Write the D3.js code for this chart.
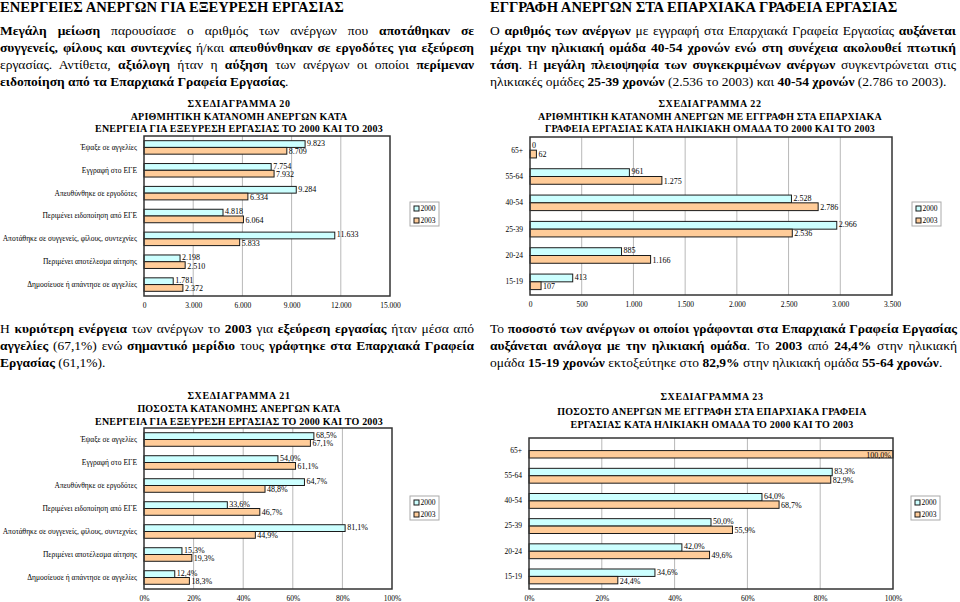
<!DOCTYPE html>
<html>
<head>
<meta charset="utf-8">
<script src="https://cdn.jsdelivr.net/npm/d3@7"></script>
<style>
  body { margin: 0; background: #fff; }
  #page { position: relative; width: 960px; height: 602px; overflow: hidden; font-family: "Liberation Serif", "Times New Roman", serif; color: #000; }
  .txt { position: absolute; font-size: 13.5px; line-height: 17px; }
  .txt .ln { text-align: justify; text-align-last: justify; white-space: nowrap; }
  .txt .ln.last { text-align-last: left; }
  .head { position: absolute; font-size: 14.6px; font-weight: bold; line-height: 15px; }
  svg { position: absolute; left: 0; top: 0; font-family: "Liberation Serif", "Times New Roman", serif; }
</style>
</head>
<body>
<div id="page">
  <div class="head" style="left:0;top:0">ΕΝΕΡΓΕΙΕΣ ΑΝΕΡΓΩΝ ΓΙΑ ΕΞΕΥΡΕΣΗ ΕΡΓΑΣΙΑΣ</div>
  <div class="txt" style="left:0;top:22px;width:474px">
    <div class="ln"><b>Μεγάλη μείωση</b> παρουσίασε ο αριθμός των ανέργων που <b>αποτάθηκαν σε</b></div>
    <div class="ln"><b>συγγενείς, φίλους και συντεχνίες</b> ή/και <b>απευθύνθηκαν σε εργοδότες για εξεύρεση</b></div>
    <div class="ln">εργασίας. Αντίθετα, <b>αξιόλογη</b> ήταν η <b>αύξηση</b> των ανέργων οι οποίοι <b>περίμεναν</b></div>
    <div class="ln last"><b>ειδοποίηση από τα Επαρχιακά Γραφεία Εργασίας</b>.</div>
  </div>

  <div class="head" style="left:490px;top:0">ΕΓΓΡΑΦΗ ΑΝΕΡΓΩΝ ΣΤΑ ΕΠΑΡΧΙΑΚΑ ΓΡΑΦΕΙΑ ΕΡΓΑΣΙΑΣ</div>
  <div class="txt" style="left:490px;top:22px;width:466px">
    <div class="ln">Ο <b>αριθμός των ανέργων</b> με εγγραφή στα Επαρχιακά Γραφεία Εργασίας <b>αυξάνεται</b></div>
    <div class="ln"><b>μέχρι την ηλικιακή ομάδα 40-54 χρονών ενώ στη συνέχεια ακολουθεί πτωτική</b></div>
    <div class="ln"><b>τάση</b>. Η <b>μεγάλη πλειοψηφία των συγκεκριμένων ανέργων</b> συγκεντρώνεται στις</div>
    <div class="ln last">ηλικιακές ομάδες <b>25-39 χρονών</b> (2.536 το 2003) και <b>40-54 χρονών</b> (2.786 το 2003).</div>
  </div>

  <div class="txt" style="left:0;top:320px;width:474px">
    <div class="ln">Η <b>κυριότερη ενέργεια</b> των ανέργων το <b>2003</b> για <b>εξεύρεση εργασίας</b> ήταν μέσα από</div>
    <div class="ln"><b>αγγελίες</b> (67,1%) ενώ <b>σημαντικό μερίδιο</b> τους <b>γράφτηκε στα Επαρχιακά Γραφεία</b></div>
    <div class="ln last"><b>Εργασίας</b> (61,1%).</div>
  </div>

  <div class="txt" style="left:490px;top:320px;width:467px">
    <div class="ln">Το <b>ποσοστό των ανέργων οι οποίοι γράφονται στα Επαρχιακά Γραφεία Εργασίας</b></div>
    <div class="ln"><b>αυξάνεται ανάλογα με την ηλικιακή ομάδα</b>. Το <b>2003</b> από <b>24,4%</b> στην ηλικιακή</div>
    <div class="ln last">ομάδα <b>15-19 χρονών</b> εκτοξεύτηκε στο <b>82,9%</b> στην ηλικιακή ομάδα <b>55-64 χρονών</b>.</div>
  </div>
</div>
<script>
// categories
const actions = ["Έψαξε σε αγγελίες", "Εγγραφή στο ΕΓΕ", "Απευθύνθηκε σε εργοδότες",
  "Περιμένει ειδοποίηση από ΕΓΕ", "Αποτάθηκε σε συγγενείς, φίλους, συντεχνίες",
  "Περιμένει αποτέλεσμα αίτησης", "Δημοσίευσε ή απάντησε σε αγγελίες"]
const ages = ["65+", "55-64", "40-54", "25-39", "20-24", "15-19"]
const years = ["2000", "2003"]

// chart 20 - counts by action
const actCount2000 = [9823, 7754, 9284, 4818, 11633, 2198, 1781]
const actCount2003 = [8709, 7932, 6334, 6064, 5833, 2510, 2372]
// chart 21 - percent by action
const actPct2000 = [68.5, 54.0, 64.7, 33.6, 81.1, 15.3, 12.4]
const actPct2003 = [67.1, 61.1, 48.8, 46.7, 44.9, 19.3, 18.3]
// chart 22 - registered by age
const ageCount2000 = [0, 961, 2528, 2966, 885, 413]
const ageCount2003 = [62, 1275, 2786, 2536, 1166, 107]
// chart 23 - percent registered by age
const agePct2000 = [null, 83.3, 64.0, 50.0, 42.0, 34.6]
const agePct2003 = [100.0, 82.9, 68.7, 55.9, 49.6, 24.4]

// tick values
const countTicks20 = [0, 3000, 6000, 9000, 12000, 15000]
const countTicks22 = [0, 500, 1000, 1500, 2000, 2500, 3000, 3500]
const pctTicks = [0, 20, 40, 60, 80, 100]

const colors = {"2000": "#ccffff", "2003": "#ffcc99"}
const serif = "Liberation Serif, Times New Roman, serif"

const loc = d3.formatLocale({decimal: ",", thousands: ".", grouping: [3], currency: ["", ""]})
const fmtCount = loc.format(",d")
const fmtPct = v => loc.format(".1f")(v) + "%"
const fmtTickPct = v => v + "%"

const svg = d3.select("#page").append("svg")
  .attr("width", 960)
  .attr("height", 602)

function drawChart(o) {
  const g = svg.append("g")

  // title
  o.title.forEach((t, i) => {
    g.append("text")
      .attr("x", o.titleX)
      .attr("y", o.titleY[i])
      .attr("text-anchor", "middle")
      .attr("font-family", serif)
      .attr("font-size", 10)
      .attr("font-weight", "bold")
      .attr("letter-spacing", i == 0 ? 0.6 : 0.2)
      .text(t)
  })

  const x = d3.scaleLinear()
    .domain([0, o.ticks[o.ticks.length - 1]])
    .range([o.left, o.right])

  const y = d3.scaleBand()
    .domain(o.cats)
    .range([o.top, o.bottom])
    .paddingInner(0.41)
    .paddingOuter(0.205)

  const ySub = d3.scaleBand()
    .domain(years)
    .range([0, y.bandwidth()])

  // grid
  g.selectAll(".grid")
    .data(o.ticks.slice(1, -1))
    .enter()
    .append("line")
    .attr("x1", d => x(d))
    .attr("x2", d => x(d))
    .attr("y1", o.top)
    .attr("y2", o.bottom)
    .attr("stroke", "#b8b8b8")
    .attr("stroke-width", 1)

  // axis at bottom, only labels
  const xAxis = d3.axisBottom(x)
    .tickValues(o.ticks)
    .tickFormat(o.tickFmt)
    .tickSize(0)
    .tickPadding(7)
  const ax = g.append("g")
    .attr("transform", `translate(0, ${o.bottom})`)
    .call(xAxis)
  ax.attr("font-family", serif)
  ax.select(".domain").remove()
  ax.selectAll("text")
    .attr("font-size", 7.5)
    .attr("fill", "#000")

  // categories
  const yAxis = d3.axisLeft(y).tickSize(0).tickPadding(7)
  const ay = g.append("g")
    .attr("transform", `translate(${o.left}, 0)`)
    .call(yAxis)
  ay.attr("font-family", serif)
  ay.select(".domain").remove()
  ay.selectAll("text")
    .attr("font-size", 7.5)
    .attr("fill", "#000")

  const rows = o.cats.map((c, i) => ({cat: c, vals: [
    {year: "2000", v: o.s2000[i]}, {year: "2003", v: o.s2003[i]}]}))

  const grp = g.selectAll(".grp")
    .data(rows)
    .enter()
    .append("g")
    .attr("transform", d => `translate(0, ${y(d.cat)})`)

  const item = grp.selectAll(".bar")
    .data(d => d.vals.filter(v => v.v !== null))
    .enter()

  item.append("rect")
    .attr("x", o.left)
    .attr("y", d => ySub(d.year))
    .attr("width", d => x(d.v) - o.left)
    .attr("height", ySub.bandwidth())
    .attr("fill", d => colors[d.year])
    .attr("stroke", "#1a1a1a")
    .attr("stroke-width", 1)

  // value labels, 2000 sits a little high, 2003 a little low
  item.append("text")
    .attr("x", d => x(d.v) >= o.right - 2 ? x(d.v) - 2 : x(d.v) + 2)
    .attr("y", d => ySub(d.year) + ySub.bandwidth() / 2 + (d.year == "2000" ? -0.8 : 0.8))
    .attr("dy", "0.33em")
    .attr("text-anchor", d => x(d.v) >= o.right - 2 ? "end" : "start")
    .attr("font-family", serif)
    .attr("font-size", 8)
    .text(d => o.valFmt(d.v))

  // plot border
  g.append("rect")
    .attr("x", o.left)
    .attr("y", o.top)
    .attr("width", o.right - o.left)
    .attr("height", o.bottom - o.top)
    .attr("fill", "none")
    .attr("stroke", "#333")
    .attr("stroke-width", 1.5)

  // legend
  const lg = g.append("g").attr("transform", `translate(${o.legend[0]}, ${o.legend[1]})`)
  lg.append("rect")
    .attr("width", 29)
    .attr("height", 24)
    .attr("fill", "#fff")
    .attr("stroke", "#aaa")
  years.forEach((yr, i) => {
    lg.append("rect")
      .attr("x", 4)
      .attr("y", 4 + i * 12)
      .attr("width", 5)
      .attr("height", 5)
      .attr("fill", colors[yr])
      .attr("stroke", "#1a1a1a")
    lg.append("text")
      .attr("x", 10.5)
      .attr("y", 6.5 + i * 12)
      .attr("dy", "0.33em")
      .attr("font-family", serif)
      .attr("font-size", 7.5)
      .text(yr)
  })
}

drawChart({
  title: ["ΣΧΕΔΙΑΓΡΑΜΜΑ 20", "ΑΡΙΘΜΗΤΙΚΗ ΚΑΤΑΝΟΜΗ ΑΝΕΡΓΩΝ ΚΑΤΑ", "ΕΝΕΡΓΕΙΑ ΓΙΑ ΕΞΕΥΡΕΣΗ ΕΡΓΑΣΙΑΣ ΤΟ 2000 ΚΑΙ ΤΟ 2003"],
  titleX: 239, titleY: [107, 120, 132],
  cats: actions, s2000: actCount2000, s2003: actCount2003,
  ticks: countTicks20, tickFmt: fmtCount, valFmt: fmtCount,
  left: 144, right: 390, top: 136, bottom: 296,
  legend: [410, 202]
})

drawChart({
  title: ["ΣΧΕΔΙΑΓΡΑΜΜΑ 22", "ΑΡΙΘΜΗΤΙΚΗ ΚΑΤΑΝΟΜΗ ΑΝΕΡΓΩΝ ΜΕ ΕΓΓΡΑΦΗ ΣΤΑ ΕΠΑΡΧΙΑΚΑ", "ΓΡΑΦΕΙΑ ΕΡΓΑΣΙΑΣ ΚΑΤΑ ΗΛΙΚΙΑΚΗ ΟΜΑΔΑ ΤΟ 2000 ΚΑΙ ΤΟ 2003"],
  titleX: 710, titleY: [107, 120, 132],
  cats: ages, s2000: ageCount2000, s2003: ageCount2003,
  ticks: countTicks22, tickFmt: fmtCount, valFmt: fmtCount,
  left: 530, right: 892, top: 137, bottom: 295,
  legend: [912, 202]
})

drawChart({
  title: ["ΣΧΕΔΙΑΓΡΑΜΜΑ 21", "ΠΟΣΟΣΤΑ ΚΑΤΑΝΟΜΗΣ ΑΝΕΡΓΩΝ ΚΑΤΑ", "ΕΝΕΡΓΕΙΑ ΓΙΑ ΕΞΕΥΡΕΣΗ ΕΡΓΑΣΙΑΣ ΤΟ 2000 ΚΑΙ ΤΟ 2003"],
  titleX: 239, titleY: [399, 412, 425],
  cats: actions, s2000: actPct2000, s2003: actPct2003,
  ticks: pctTicks, tickFmt: fmtTickPct, valFmt: fmtPct,
  left: 144, right: 392, top: 428, bottom: 589,
  legend: [410, 496]
})

drawChart({
  title: ["ΣΧΕΔΙΑΓΡΑΜΜΑ 23", "ΠΟΣΟΣΤΟ ΑΝΕΡΓΩΝ ΜΕ ΕΓΓΡΑΦΗ ΣΤΑ ΕΠΑΡΧΙΑΚΑ ΓΡΑΦΕΙΑ", "ΕΡΓΑΣΙΑΣ ΚΑΤΑ ΗΛΙΚΙΑΚΗ ΟΜΑΔΑ ΤΟ 2000 ΚΑΙ ΤΟ 2003"],
  titleX: 712, titleY: [400, 415, 428],
  cats: ages, s2000: agePct2000, s2003: agePct2003,
  ticks: pctTicks, tickFmt: fmtTickPct, valFmt: fmtPct,
  left: 529, right: 893, top: 438, bottom: 589,
  legend: [911, 496]
})
</script>
</body>
</html>
